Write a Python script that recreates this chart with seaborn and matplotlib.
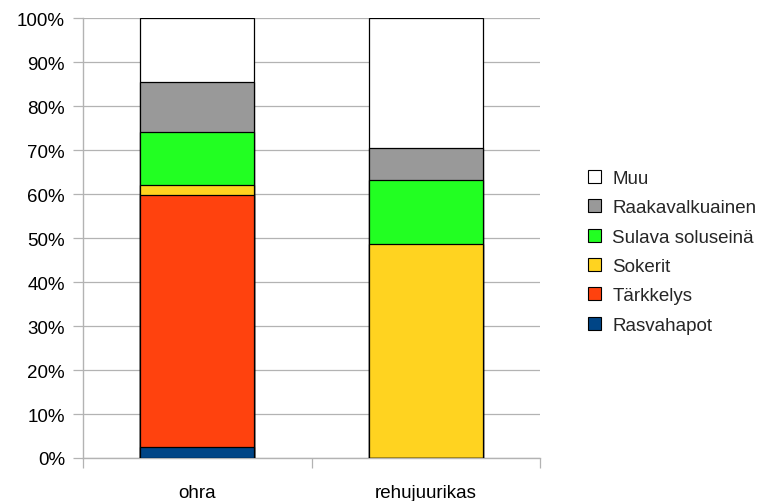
import matplotlib
matplotlib.use("Agg")
import matplotlib.pyplot as plt
from matplotlib.patches import Patch
from matplotlib.ticker import FixedLocator, PercentFormatter
import numpy as np
import pandas as pd
import seaborn as sns

categories = ["ohra", "rehujuurikas"]
components = ["Rasvahapot", "Tärkkelys", "Sokerit", "Sulava soluseinä", "Raakavalkuainen", "Muu"]
rasvahapot = [2.5, 0.0]
tarkkelys = [57.4, 0.0]
sokerit = [2.3, 48.7]
sulava = [11.9, 14.5]
raakavalkuainen = [11.4, 7.3]
muu = [14.5, 29.5]

colors = {
    "Rasvahapot": "#004586",
    "Tärkkelys": "#ff420e",
    "Sokerit": "#ffd320",
    "Sulava soluseinä": "#22ff22",
    "Raakavalkuainen": "#999999",
    "Muu": "#ffffff",
}

df = pd.DataFrame(
    {
        "kategoria": categories,
        "Rasvahapot": rasvahapot,
        "Tärkkelys": tarkkelys,
        "Sokerit": sokerit,
        "Sulava soluseinä": sulava,
        "Raakavalkuainen": raakavalkuainen,
        "Muu": muu,
    }
)
cum = df[components].cumsum(axis=1)
cum["kategoria"] = df["kategoria"]

sns.set_theme(style="white")
plt.rcParams["font.family"] = ["Liberation Sans", "DejaVu Sans"]

FS = 13.5

fig = plt.figure(figsize=(7.7, 5.02), dpi=100)
ax = fig.add_axes([83 / 770, 1 - 459 / 502, 457 / 770, (459 - 19.3) / 502])

# stacked bars: draw cumulative totals from the top layer down
for comp in reversed(components):
    sns.barplot(
        data=cum,
        x="kategoria",
        y=comp,
        order=categories,
        color=colors[comp],
        saturation=1,
        width=0.5,
        edgecolor="black",
        linewidth=0.9,
        ax=ax,
        zorder=3,
    )

ax.set_xlim(-0.5, 1.5)
ax.set_ylim(0, 100)
ax.set_xlabel("")
ax.set_ylabel("")

ax.yaxis.set_major_locator(FixedLocator(np.arange(0, 101, 10)))
ax.yaxis.set_major_formatter(PercentFormatter(decimals=0))
ax.grid(axis="y", color="#b3b3b3", linewidth=0.9, zorder=0)
ax.grid(axis="x", visible=False)

for side in ["top", "right"]:
    ax.spines[side].set_visible(False)
for side in ["left", "bottom"]:
    ax.spines[side].set_color("#b3b3b3")
    ax.spines[side].set_linewidth(1.0)

ax.tick_params(axis="y", which="major", left=True, length=7, width=0.9, color="#b3b3b3",
               labelsize=FS, pad=6, labelcolor="black")
ax.set_xticks([0, 1])
ax.set_xticklabels(categories)
ax.tick_params(axis="x", which="major", bottom=False, length=0, labelsize=FS, pad=19, labelcolor="black")
ax.set_xticks([-0.5, 0.5, 1.5], minor=True)
ax.tick_params(axis="x", which="minor", bottom=True, length=7, width=0.9, color="#b3b3b3")

handles = [Patch(facecolor=colors[c], edgecolor="black", linewidth=0.8, label=c) for c in reversed(components)]
fig.legend(
    handles=handles,
    loc="upper left",
    bbox_to_anchor=(588 / 770, 1 - 171 / 502),
    frameon=False,
    fontsize=FS,
    handlelength=0.7,
    handleheight=0.7,
    handletextpad=0.6,
    labelspacing=0.65,
    borderaxespad=0,
    borderpad=0,
)

fig.savefig("out.png", dpi=100)
